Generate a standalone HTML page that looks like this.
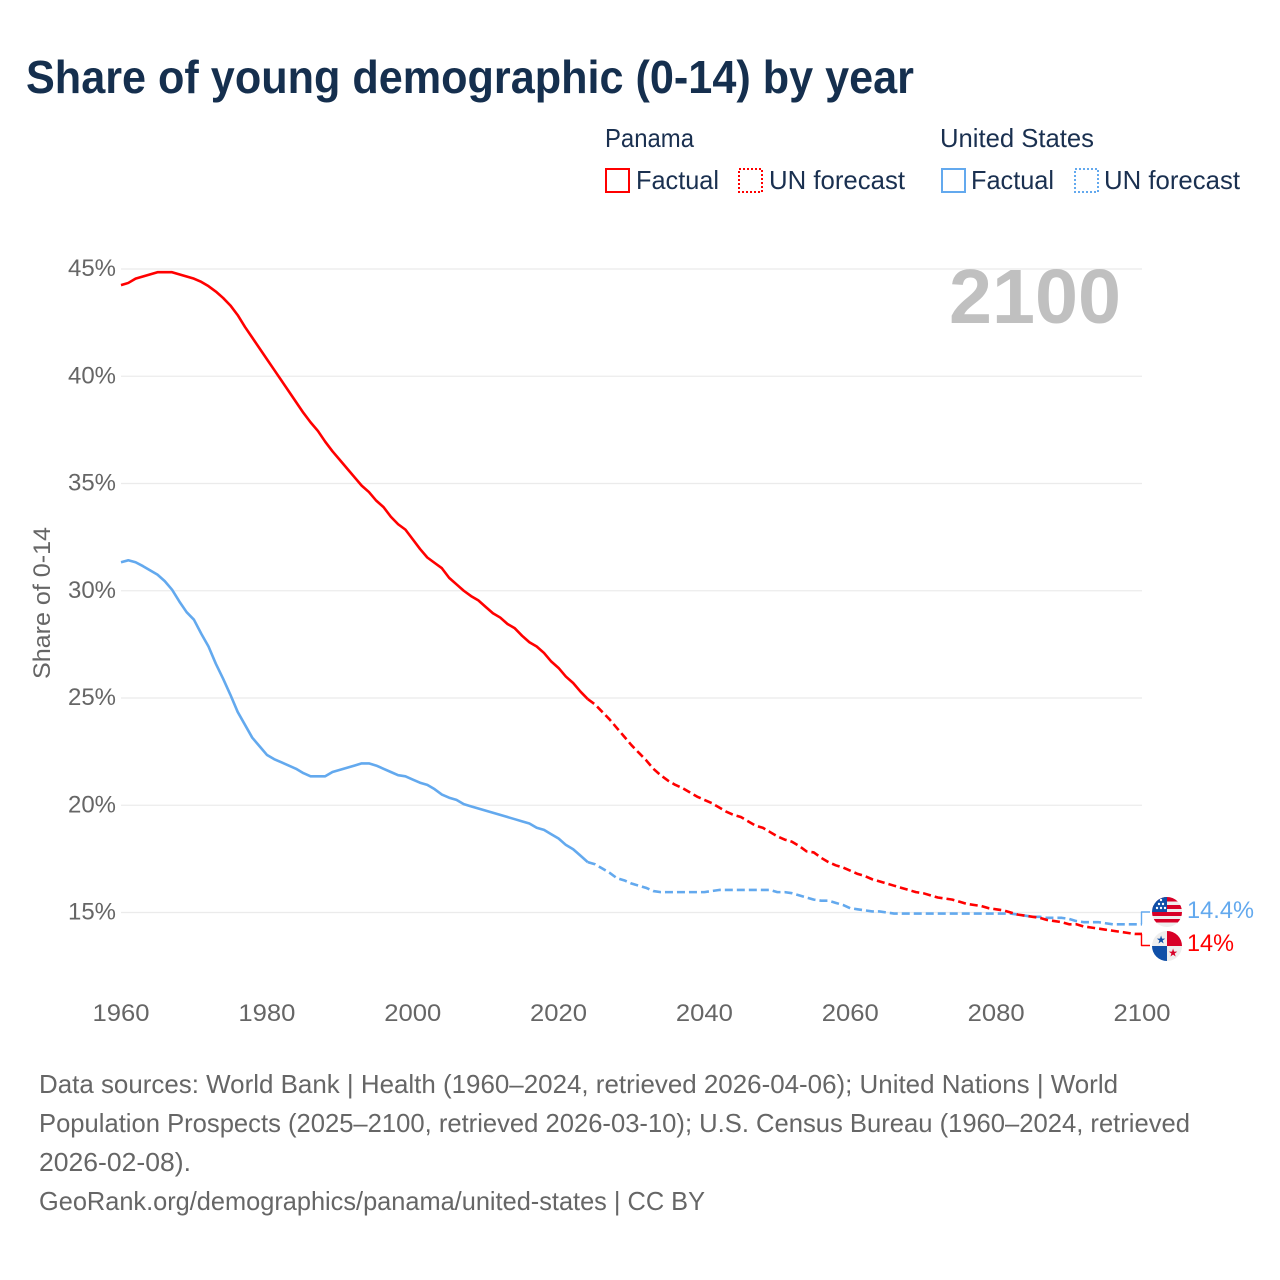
<!DOCTYPE html>
<html lang="en">
<head>
<meta charset="utf-8">
<title>Share of young demographic (0-14) by year</title>
<style>
html,body{margin:0;padding:0;background:#fff;}
svg{display:block;font-family:"Liberation Sans",sans-serif;}
</style>
</head>
<body>
<svg id="chart" xmlns="http://www.w3.org/2000/svg" width="1280" height="1280" viewBox="0 0 1280 1280">
  <rect x="0" y="0" width="1280" height="1280" fill="#fff"/>
  <text x="26" y="93" font-size="46" font-weight="700" fill="#152f4e" textLength="888" lengthAdjust="spacingAndGlyphs">Share of young demographic (0-14) by year</text>

  <g font-size="26" fill="#1a3050">
    <text x="605" y="147" textLength="89" lengthAdjust="spacingAndGlyphs">Panama</text>
    <rect x="606" y="169" width="23" height="23" fill="none" stroke="#f00" stroke-width="2"/>
    <text x="636" y="189" textLength="83" lengthAdjust="spacingAndGlyphs">Factual</text>
    <rect x="739" y="169" width="23" height="23" fill="none" stroke="#f00" stroke-width="2" stroke-dasharray="2 2"/>
    <text x="769" y="189" textLength="136" lengthAdjust="spacingAndGlyphs">UN forecast</text>
    <text x="940" y="147" textLength="154" lengthAdjust="spacingAndGlyphs">United States</text>
    <rect x="942" y="169" width="23" height="23" fill="none" stroke="#63a9ee" stroke-width="2"/>
    <text x="971" y="189" textLength="83" lengthAdjust="spacingAndGlyphs">Factual</text>
    <rect x="1075" y="169" width="23" height="23" fill="none" stroke="#63a9ee" stroke-width="2" stroke-dasharray="2 2"/>
    <text x="1104" y="189" textLength="136" lengthAdjust="spacingAndGlyphs">UN forecast</text>
  </g>

  <g id="grid"></g>
  <text x="949" y="323" font-size="77" font-weight="700" fill="#c0c0c0" textLength="172" lengthAdjust="spacingAndGlyphs">2100</text>
  <g id="yticks" font-size="24" fill="#666"></g>
  <g id="xticks" font-size="24" fill="#666"></g>
  <text transform="translate(50 679) rotate(-90)" font-size="24" fill="#666" textLength="152" lengthAdjust="spacingAndGlyphs">Share of 0-14</text>
  <g id="series" fill="none" stroke-linejoin="round"></g>

  <defs>
    <clipPath id="clip-us"><circle cx="1167" cy="912" r="15"/></clipPath>
    <clipPath id="clip-pa"><circle cx="1167" cy="946" r="15"/></clipPath>
  </defs>
  <g id="flag-us" clip-path="url(#clip-us)">
    <rect x="1152" y="897" width="30" height="30" fill="#eee"/>
    <rect x="1152" y="897" width="30" height="4.5" fill="#d80027"/>
    <rect x="1152" y="905" width="30" height="4" fill="#d80027"/>
    <rect x="1152" y="912" width="30" height="4" fill="#d80027"/>
    <rect x="1152" y="919" width="30" height="3.5" fill="#d80027"/>
    <rect x="1152" y="897" width="15" height="15" fill="#0f4fa8"/>
    <g fill="#fff">
      <circle cx="1157" cy="908" r="1.2"/><circle cx="1161" cy="908" r="1.2"/><circle cx="1165" cy="908" r="1.2"/>
      <circle cx="1159" cy="904" r="1.2"/><circle cx="1163" cy="904" r="1.2"/><circle cx="1161" cy="900" r="1.2"/>
    </g>
  </g>
  <g id="flag-pa" clip-path="url(#clip-pa)">
    <rect x="1152" y="931" width="30" height="30" fill="#eee"/>
    <rect x="1167" y="931" width="15" height="15" fill="#d80027"/>
    <rect x="1152" y="946" width="15" height="15" fill="#0f4fa8"/>
    <text x="1161" y="943.5" font-size="11" text-anchor="middle" fill="#0f4fa8">★</text>
    <text x="1173" y="956.5" font-size="11" text-anchor="middle" fill="#d80027">★</text>
  </g>
  <text id="label-us" x="1187" y="918" font-size="24" fill="#63a9ee" textLength="67" lengthAdjust="spacingAndGlyphs"></text>
  <text id="label-pa" x="1187" y="951" font-size="24" fill="#f00" textLength="47" lengthAdjust="spacingAndGlyphs"></text>

  <g font-size="26" fill="#666">
    <text x="39" y="1093" textLength="1079" lengthAdjust="spacingAndGlyphs">Data sources: World Bank | Health (1960–2024, retrieved 2026-04-06); United Nations | World</text>
    <text x="39" y="1132" textLength="1151" lengthAdjust="spacingAndGlyphs">Population Prospects (2025–2100, retrieved 2026-03-10); U.S. Census Bureau (1960–2024, retrieved</text>
    <text x="39" y="1171" textLength="152" lengthAdjust="spacingAndGlyphs">2026-02-08).</text>
    <text x="39" y="1210" textLength="666" lengthAdjust="spacingAndGlyphs">GeoRank.org/demographics/panama/united-states | CC BY</text>
  </g>
</svg>
<script>
var yTickValues = [45, 40, 35, 30, 25, 20, 15];
var xTickYears = [1960, 1980, 2000, 2020, 2040, 2060, 2080, 2100];
var factualStartYear = 1960;
var forecastStartYear = 2024;
var endLabelPanama = "14%";
var endLabelUS = "14.4%";
var panamaFactual = [
  44.25,44.35,44.55,44.65,44.75,44.85,44.85,44.85,44.75,44.65,
  44.55,44.4,44.2,43.95,43.65,43.3,42.85,42.3,41.8,41.3,
  40.8,40.3,39.8,39.3,38.8,38.3,37.85,37.45,36.95,36.5,
  36.1,35.7,35.3,34.9,34.6,34.2,33.9,33.45,33.1,32.85,
  32.4,31.95,31.55,31.3,31.05,30.6,30.3,30.0,29.75,29.55,
  29.25,28.95,28.75,28.45,28.25,27.9,27.6,27.4,27.1,26.7,
  26.4,26.0,25.7,25.3,24.95
];
var panamaForecast = [
  24.95,24.7,24.35,24.0,23.6,23.2,
  22.8,22.45,22.1,21.7,21.4,21.15,20.95,20.8,20.6,20.4,
  20.25,20.1,19.9,19.7,19.55,19.45,19.25,19.05,18.95,18.75,
  18.55,18.4,18.3,18.1,17.85,17.8,17.55,17.35,17.2,17.1,
  16.95,16.8,16.7,16.55,16.45,16.35,16.25,16.15,16.05,15.95,
  15.9,15.8,15.7,15.65,15.6,15.5,15.4,15.35,15.3,15.2,
  15.15,15.1,15.0,14.9,14.85,14.8,14.75,14.65,14.6,14.55,
  14.45,14.45,14.35,14.3,14.25,14.2,14.15,14.1,14.05,14.0,
  14.0
];
var usFactual = [
  31.33,31.42,31.33,31.15,30.95,30.75,30.45,30.05,29.5,29.0,
  28.65,28.0,27.4,26.6,25.9,25.15,24.35,23.75,23.15,22.75,
  22.35,22.15,22.0,21.85,21.7,21.5,21.35,21.35,21.35,21.55,
  21.65,21.75,21.85,21.95,21.95,21.85,21.7,21.55,21.4,21.35,
  21.2,21.05,20.95,20.75,20.5,20.35,20.25,20.05,19.95,19.85,
  19.75,19.65,19.55,19.45,19.35,19.25,19.15,18.95,18.85,18.65,
  18.45,18.15,17.95,17.65,17.35
];
var usForecast = [
  17.35,17.25,17.05,16.85,16.6,16.5,
  16.35,16.25,16.15,16.0,15.95,15.95,15.95,15.95,15.95,15.95,
  15.95,16.0,16.05,16.05,16.05,16.05,16.05,16.05,16.05,16.05,
  15.95,15.95,15.9,15.8,15.7,15.6,15.55,15.55,15.45,15.35,
  15.2,15.15,15.1,15.05,15.05,15.0,14.95,14.95,14.95,14.95,
  14.95,14.95,14.95,14.95,14.95,14.95,14.95,14.95,14.95,14.95,
  14.95,14.95,14.95,14.9,14.85,14.8,14.8,14.75,14.75,14.75,
  14.7,14.6,14.55,14.55,14.55,14.5,14.45,14.45,14.45,14.45,
  14.45
];

var NS = 'http://www.w3.org/2000/svg';
var RED = '#ff0000';
var BLUE = '#63a9ee';
function xScale(year) { return 121 + (year - 1960) * (1142 - 121) / 140; }
function yScale(v) { return 912.5 - (v - 15) * (912.5 - 269) / 30; }
function pointsFor(values, startYear) {
  return values.map(function (v, i) {
    return xScale(startYear + i).toFixed(2) + ',' + yScale(v).toFixed(2);
  }).join(' ');
}
function make(tag, attrs, parent) {
  var el = document.createElementNS(NS, tag);
  Object.keys(attrs).forEach(function (k) { el.setAttribute(k, attrs[k]); });
  parent.appendChild(el);
  return el;
}

var grid = document.getElementById('grid');
var yticks = document.getElementById('yticks');
var xticks = document.getElementById('xticks');
var series = document.getElementById('series');

yTickValues.forEach(function (v) {
  var line = make('line', { x1: 121, x2: 1142, y1: yScale(v), y2: yScale(v), stroke: '#ebebeb', 'stroke-width': 1.2 }, grid);
  
  
  var t = make('text', { x: 68, y: yScale(v) + 7, textLength: 48, lengthAdjust: 'spacingAndGlyphs' }, yticks);
  t.textContent = v + '%';
  
  
});

xTickYears.forEach(function (yr) {
  var t = make('text', { x: xScale(yr) - 28.5, y: 1021, textLength: 57, lengthAdjust: 'spacingAndGlyphs' }, xticks);
  t.textContent = yr;
  
  
});

var usFactualLine = make('polyline', { points: pointsFor(usFactual, factualStartYear), stroke: BLUE, 'stroke-width': 2.6 }, series);



var usForecastLine = make('polyline', { points: pointsFor(usForecast, forecastStartYear), stroke: BLUE, 'stroke-width': 2.6, 'stroke-dasharray': '8 4' }, series);



var panamaFactualLine = make('polyline', { points: pointsFor(panamaFactual, factualStartYear), stroke: RED, 'stroke-width': 2.6 }, series);



var panamaForecastLine = make('polyline', { points: pointsFor(panamaForecast, forecastStartYear), stroke: RED, 'stroke-width': 2.6, 'stroke-dasharray': '8 4' }, series);



var usEndY = yScale(usForecast[usForecast.length - 1]);
var paEndY = yScale(panamaForecast[panamaForecast.length - 1]);

var usConnector = make('polyline', { points: '1141.5,' + usEndY + ' 1141.5,912 1150,912', stroke: BLUE, 'stroke-width': 1.4 }, series);



var paConnector = make('polyline', { points: '1141.5,' + paEndY + ' 1141.5,945.5 1150,945.5', stroke: RED, 'stroke-width': 1.4 }, series);



document.getElementById('label-us').textContent = endLabelUS;
document.getElementById('label-pa').textContent = endLabelPanama;
</script>
</body>
</html>
